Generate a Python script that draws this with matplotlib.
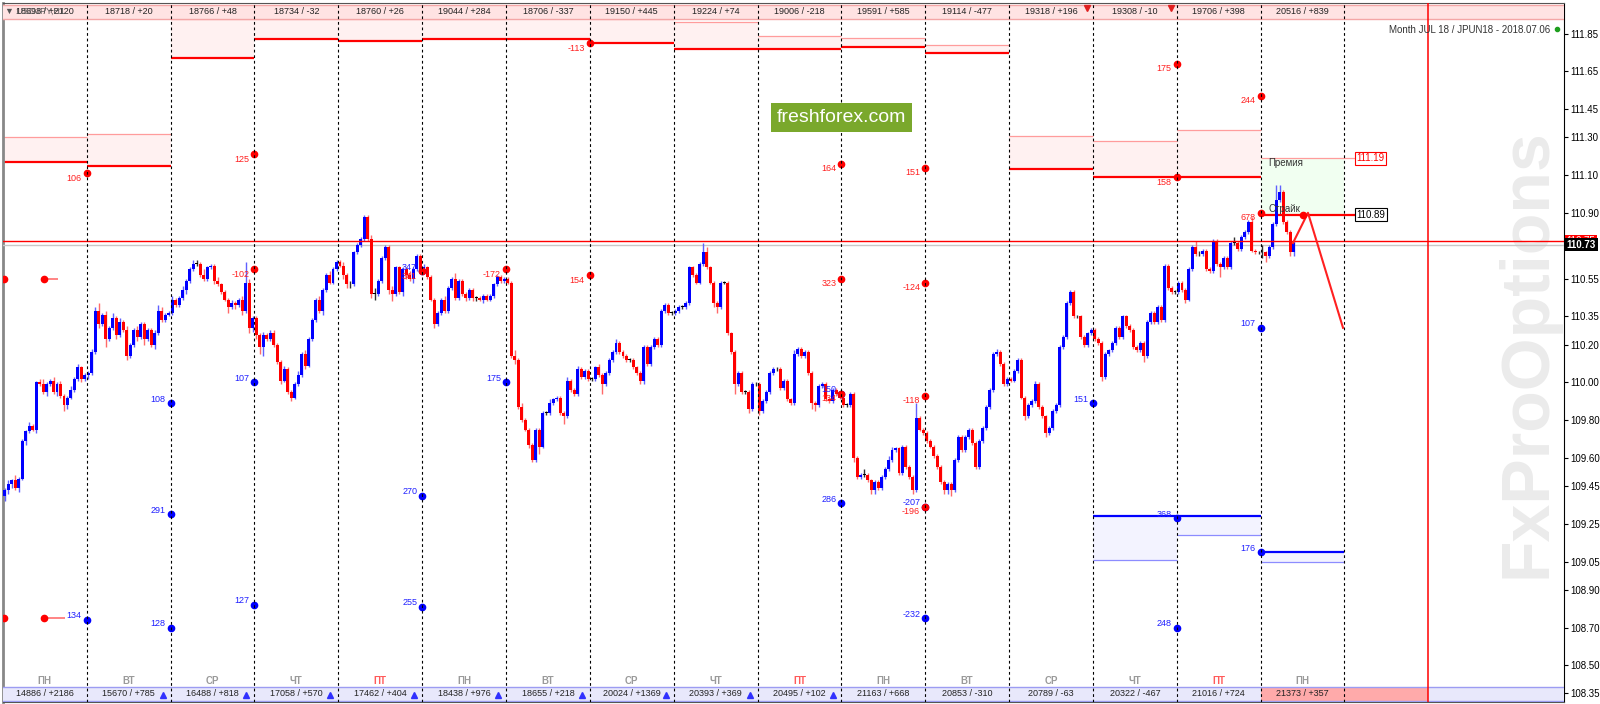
import matplotlib
matplotlib.use("Agg")
import matplotlib.pyplot as plt
from matplotlib.patches import Rectangle
from matplotlib.transforms import blended_transform_factory

plt.rcParams['font.family'] = ['Liberation Sans', 'DejaVu Sans']

# ---------------- data ----------------
day_names = ["ПН", "ВТ", "СР", "ЧТ", "ПТ", "ПН", "ВТ", "СР", "ЧТ", "ПТ",
             "ПН", "ВТ", "СР", "ЧТ", "ПТ", "ПН"]
top_labels = ["18698 / +2120", "18718 / +20", "18766 / +48", "18734 / -32",
              "18760 / +26", "19044 / +284", "18706 / -337", "19150 / +445",
              "19224 / +74", "19006 / -218", "19591 / +585", "19114 / -477",
              "19318 / +196", "19308 / -10", "19706 / +398", "20516 / +839"]
bottom_labels = ["14886 / +2186", "15670 / +785", "16488 / +818", "17058 / +570",
                 "17462 / +404", "18438 / +976", "18655 / +218", "20024 / +1369",
                 "20393 / +369", "20495 / +102", "21163 / +668", "20853 / -310",
                 "20789 / -63", "20322 / -467", "21016 / +724", "21373 / +357"]

first_open = 109.40
closes_by_day = [
    [109.43, 109.46, 109.48, 109.44, 109.49, 109.69, 109.74, 109.77, 109.75, 110.00, 109.99, 109.95,
     109.99, 110.01, 109.95, 109.99, 109.93, 109.88, 109.92, 109.96, 110.02, 110.08, 110.02, 110.04],
    [110.05, 110.16, 110.38, 110.31, 110.36, 110.23, 110.29, 110.34, 110.25, 110.32, 110.28, 110.14,
     110.20, 110.28, 110.24, 110.31, 110.23, 110.28, 110.20, 110.26, 110.38, 110.33, 110.36, 110.37],
    [110.44, 110.41, 110.45, 110.49, 110.54, 110.60, 110.63, 110.63, 110.57, 110.55, 110.61, 110.62,
     110.54, 110.52, 110.48, 110.44, 110.40, 110.42, 110.41, 110.44, 110.38, 110.53, 110.29, 110.34],
    [110.25, 110.19, 110.25, 110.23, 110.26, 110.20, 110.11, 110.01, 110.07, 109.95, 109.92, 109.99,
     110.04, 110.15, 110.09, 110.23, 110.33, 110.44, 110.38, 110.49, 110.57, 110.53, 110.60, 110.64],
    [110.62, 110.57, 110.52, 110.52, 110.69, 110.73, 110.76, 110.88, 110.76, 110.47, 110.47, 110.54,
     110.66, 110.72, 110.49, 110.47, 110.61, 110.48, 110.60, 110.57, 110.55, 110.60, 110.67, 110.59],
    [110.61, 110.56, 110.44, 110.31, 110.37, 110.44, 110.38, 110.50, 110.55, 110.45, 110.54, 110.47,
     110.45, 110.49, 110.45, 110.45, 110.44, 110.46, 110.44, 110.46, 110.52, 110.56, 110.54, 110.55],
    [110.53, 110.14, 110.12, 109.87, 109.80, 109.75, 109.67, 109.59, 109.75, 109.66, 109.84, 109.84,
     109.89, 109.91, 109.92, 109.84, 109.82, 110.01, 109.96, 109.94, 110.07, 110.03, 110.06, 110.02],
    [110.02, 110.08, 110.04, 109.99, 110.05, 110.12, 110.16, 110.21, 110.16, 110.14, 110.12, 110.12,
     110.08, 110.05, 110.01, 110.19, 110.10, 110.19, 110.23, 110.20, 110.38, 110.41, 110.37, 110.37],
    [110.38, 110.40, 110.40, 110.42, 110.61, 110.57, 110.53, 110.63, 110.69, 110.61, 110.53, 110.42,
     110.40, 110.53, 110.53, 110.26, 110.16, 109.99, 110.05, 109.95, 109.95, 109.86, 109.99, 109.99],
    [109.85, 109.90, 109.95, 110.05, 110.07, 110.07, 109.97, 110.01, 109.91, 109.89, 110.15, 110.18,
     110.14, 110.16, 110.05, 109.89, 109.88, 109.98, 109.99, 109.91, 109.90, 109.96, 109.94, 109.92],
    [109.88, 109.88, 109.94, 109.60, 109.50, 109.51, 109.51, 109.48, 109.43, 109.47, 109.44, 109.50,
     109.54, 109.59, 109.64, 109.65, 109.52, 109.66, 109.55, 109.50, 109.43, 109.81, 109.75, 109.73],
    [109.69, 109.66, 109.61, 109.55, 109.47, 109.43, 109.46, 109.43, 109.59, 109.71, 109.64, 109.71,
     109.75, 109.68, 109.55, 109.69, 109.76, 109.87, 109.96, 110.15, 110.16, 110.10, 109.99, 110.02],
    [110.01, 110.06, 110.12, 109.92, 109.82, 109.88, 109.90, 109.99, 109.87, 109.82, 109.73, 109.76,
     109.85, 109.88, 110.19, 110.24, 110.42, 110.48, 110.35, 110.35, 110.24, 110.20, 110.26, 110.28],
    [110.23, 110.21, 110.03, 110.15, 110.17, 110.21, 110.29, 110.24, 110.35, 110.30, 110.28, 110.19,
     110.17, 110.21, 110.14, 110.32, 110.37, 110.32, 110.40, 110.33, 110.62, 110.50, 110.48, 110.48],
    [110.53, 110.49, 110.44, 110.60, 110.72, 110.68, 110.68, 110.70, 110.60, 110.59, 110.75, 110.63,
     110.61, 110.66, 110.61, 110.74, 110.74, 110.71, 110.77, 110.80, 110.85, 110.70, 110.69, 110.69],
    [110.69, 110.67, 110.72, 110.84, 110.97, 111.01, 110.85, 110.80, 110.69, 110.74],
]
# wick extensions beyond the body, in 0.01 (pips)
wick_up_by_day = [
    [1, 2, 1, 3, 1, 1, 1, 2, 1, 1, 2, 3, 1, 1, 2, 1, 2, 1, 1, 2, 1, 2, 1, 1],
    [1, 2, 2, 4, 1, 2, 1, 3, 1, 2, 1, 2, 1, 1, 2, 1, 1, 1, 1, 2, 3, 2, 1, 1],
    [2, 1, 1, 2, 1, 1, 2, 2, 1, 3, 1, 1, 1, 2, 1, 1, 1, 2, 1, 1, 2, 11, 2, 1],
    [1, 1, 2, 1, 2, 2, 1, 1, 2, 1, 1, 1, 2, 1, 2, 1, 1, 1, 2, 1, 1, 2, 1, 1],
    [1, 2, 1, 2, 1, 1, 1, 1, 1, 2, 3, 1, 1, 1, 1, 2, 1, 1, 1, 1, 2, 1, 1, 1],
    [2, 1, 1, 1, 1, 1, 2, 1, 1, 3, 1, 1, 1, 1, 1, 1, 1, 1, 1, 1, 1, 1, 1, 1],
    [1, 1, 3, 1, 2, 1, 1, 1, 1, 1, 1, 1, 2, 1, 1, 1, 1, 2, 1, 1, 2, 1, 1, 1],
    [1, 1, 2, 1, 1, 1, 1, 2, 1, 1, 1, 1, 1, 1, 1, 1, 1, 1, 1, 1, 1, 1, 1, 1],
    [1, 1, 1, 1, 1, 1, 1, 1, 5, 3, 1, 1, 1, 1, 1, 1, 1, 1, 1, 1, 1, 1, 1, 1],
    [1, 1, 1, 1, 1, 1, 1, 1, 1, 1, 2, 1, 1, 1, 1, 1, 1, 1, 1, 1, 1, 1, 1, 1],
    [1, 1, 1, 1, 1, 1, 3, 1, 1, 1, 1, 1, 1, 2, 2, 1, 1, 1, 1, 1, 1, 8, 1, 1],
    [1, 1, 1, 1, 1, 1, 1, 1, 1, 1, 1, 1, 1, 1, 1, 1, 1, 1, 1, 1, 2, 1, 1, 1],
    [1, 1, 1, 1, 1, 1, 1, 2, 1, 1, 1, 1, 1, 1, 1, 1, 1, 1, 1, 1, 1, 1, 1, 1],
    [1, 1, 1, 1, 1, 1, 1, 1, 1, 1, 1, 1, 1, 1, 1, 1, 1, 1, 1, 1, 1, 1, 1, 1],
    [1, 1, 1, 1, 1, 3, 2, 1, 1, 1, 1, 1, 1, 1, 1, 1, 3, 1, 1, 1, 1, 3, 1, 1],
    [4, 1, 1, 1, 8, 4, 1, 1, 1, 1],
]
wick_dn_by_day = [
    [3, 2, 2, 1, 2, 1, 2, 1, 1, 2, 1, 1, 2, 1, 1, 2, 1, 3, 2, 1, 1, 1, 2, 1],
    [2, 1, 1, 2, 1, 4, 1, 1, 2, 1, 1, 2, 1, 1, 2, 1, 3, 1, 1, 2, 1, 1, 1, 1],
    [1, 1, 1, 1, 2, 1, 1, 1, 1, 1, 1, 1, 2, 1, 1, 1, 3, 1, 2, 1, 2, 1, 3, 2],
    [2, 4, 5, 1, 1, 1, 1, 2, 1, 1, 2, 1, 1, 1, 2, 1, 1, 1, 1, 2, 1, 1, 1, 1],
    [1, 2, 2, 2, 1, 1, 1, 1, 1, 2, 3, 1, 1, 1, 2, 4, 1, 1, 2, 2, 1, 2, 1, 1],
    [1, 1, 1, 2, 1, 1, 1, 1, 1, 1, 1, 1, 2, 1, 2, 2, 1, 2, 1, 1, 1, 1, 1, 1],
    [1, 1, 2, 1, 1, 1, 2, 1, 1, 4, 1, 1, 1, 1, 1, 1, 4, 1, 1, 1, 1, 1, 1, 1],
    [1, 1, 1, 5, 1, 1, 1, 1, 1, 1, 1, 1, 1, 1, 2, 2, 1, 1, 1, 1, 1, 1, 1, 1],
    [1, 1, 1, 1, 1, 1, 1, 1, 1, 1, 1, 2, 3, 1, 1, 1, 1, 5, 1, 1, 1, 2, 1, 1],
    [2, 1, 1, 1, 1, 1, 1, 1, 1, 1, 1, 1, 1, 1, 1, 3, 3, 1, 1, 1, 1, 1, 1, 1],
    [1, 1, 1, 2, 1, 1, 1, 1, 2, 2, 1, 1, 1, 1, 1, 1, 1, 1, 1, 1, 2, 1, 1, 1],
    [1, 1, 1, 1, 1, 2, 2, 3, 1, 1, 1, 1, 1, 1, 1, 1, 1, 1, 1, 1, 1, 1, 1, 1],
    [1, 1, 1, 1, 2, 1, 1, 1, 1, 1, 2, 1, 1, 1, 1, 1, 1, 1, 1, 1, 1, 1, 1, 1],
    [1, 1, 2, 1, 1, 1, 1, 1, 1, 1, 1, 1, 1, 1, 3, 1, 1, 1, 1, 1, 1, 1, 1, 1],
    [1, 1, 2, 1, 1, 1, 1, 1, 1, 1, 1, 1, 5, 1, 1, 1, 1, 1, 1, 1, 1, 1, 1, 1],
    [3, 3, 1, 1, 1, 1, 1, 1, 2, 2],
]

# daily option levels (upper = calls, red; lower = puts, blue)
up_thick = [111.17, 111.15, 111.72, 111.82, 111.81, 111.82, 111.82, 111.80,
            111.77, 111.77, 111.78, 111.75, 111.13, 111.09, 111.09]
up_thin = [111.30, 111.32, 111.93, 111.93, 111.93, 111.93, 111.99, 111.93,
           111.91, 111.84, 111.83, 111.79, 111.31, 111.28, 111.34]
blue_days = [13, 14, 15]
blue_thick = [109.29, 109.29, 109.10]
blue_thin = [109.06, 109.19, 109.05]
premium_price = 111.19
strike_price = 110.89
bid_price = 110.73
ask_price = 110.75

red_dots = [(1.0, 111.11, "106"), (3.0, 111.21, "125"), (3.0, 110.60, "-102"),
            (5.0, 110.59, "341"), (6.0, 110.60, "-172"), (7.0, 110.57, "154"),
            (7.0, 111.80, "-113"), (10.0, 111.16, "164"), (10.0, 110.55, "323"),
            (10.0, 109.94, "134"), (11.0, 111.14, "151"), (11.0, 110.53, "-124"),
            (11.0, 109.93, "-118"), (11.0, 109.34, "-196"), (14.0, 111.09, "158"),
            (14.0, 111.69, "175"), (15.0, 111.52, "244"), (15.0, 110.90, "678"),
            (15.5, 110.89, "")]
blue_dots = [(1.0, 108.74, "134"), (2.0, 109.89, "108"), (2.0, 109.30, "291"),
             (2.0, 108.70, "128"), (3.0, 110.00, "107"), (3.0, 108.82, "127"),
             (5.0, 110.59, "347"), (5.0, 109.40, "270"), (5.0, 108.81, "255"),
             (6.0, 110.00, "175"), (10.0, 109.94, "150"), (10.0, 109.36, "286"),
             (11.0, 109.34, "-207"), (11.0, 108.75, "-232"), (13.0, 109.89, "151"),
             (14.0, 109.28, "368"), (14.0, 108.70, "248"), (15.0, 110.29, "107"),
             (15.0, 109.10, "176")]
stub_price = [110.55, 108.75]
stub_start = [0.49, 0.49]
stub_end = [0.66, 0.74]
fc_t = [15.386, 15.565, 15.983]
fc_p = [110.74, 110.90, 110.29]

y_ticks = [111.85, 111.65, 111.45, 111.30, 111.10, 110.90, 110.55, 110.35, 110.20,
           110.00, 109.80, 109.60, 109.45, 109.25, 109.05, 108.90, 108.70, 108.50, 108.35]

# ---------------- layout ----------------
W, H = 1600, 704
fig = plt.figure(figsize=(W / 100, H / 100), dpi=100)
X0, DAYPX = 2.85, 83.85
L, R, T, B = X0, 1563.8, 3.0, 702.0
PX_PER = 188.5
P_AT0 = 112.029
ax = fig.add_axes([L / W, 1 - B / H, (R - L) / W, (B - T) / H])
ax.set_xlim(0, (R - X0) / DAYPX)
ax.set_ylim(P_AT0 - B / PX_PER, P_AT0 - T / PX_PER)


def fy(ypx):
    return (B - ypx) / (B - T)


def fx(xpx):
    return (xpx - L) / (R - L)


tr = blended_transform_factory(ax.transData, ax.transAxes)
tr_r = blended_transform_factory(ax.transAxes, ax.transData)

# watermark
ax.text(fx(1527), fy(353), "FxProOptions", transform=ax.transAxes, rotation=90,
        ha='center', va='center', fontsize=49, fontweight='bold',
        color='#EBEBEB', family='Liberation Sans', zorder=0)

# ---------------- levels ----------------
for d in range(len(up_thick)):
    ax.fill_between([d, d + 1], up_thick[d], up_thin[d], color='#FFF1F1', lw=0, zorder=1)
    ax.hlines(up_thin[d], d, d + 1, color='#FF9C9C', lw=0.9, zorder=2)
    ax.hlines(up_thick[d], d, d + 1, color='#FF0000', lw=1.6, zorder=2)
box_day = (1355 - X0) / DAYPX
ax.fill_between([15, 16], strike_price, premium_price, color='#F1FFF1', lw=0, zorder=1)
ax.hlines(premium_price, 15, box_day, color='#FF9C9C', lw=0.9, zorder=2)
ax.hlines(strike_price, 15, box_day, color='#FF0000', lw=1.6, zorder=2)
for i, d in enumerate(blue_days):
    ax.fill_between([d, d + 1], blue_thick[i], blue_thin[i], color='#F3F3FF', lw=0, zorder=1)
    ax.hlines(blue_thin[i], d, d + 1, color='#8C8CFF', lw=0.9, zorder=2)
    ax.hlines(blue_thick[i], d, d + 1, color='#0000FF', lw=1.6, zorder=2)

ax.text(15.09, 111.165, "Премия", fontsize=7, color='#333333', va='center', ha='left', zorder=6)
ax.text(15.09, 110.92, "Страйк", fontsize=7, color='#333333', va='center', ha='left', zorder=6)
ax.text(box_day + 0.02, premium_price, "111.19", fontsize=7, color='red', va='center', ha='left',
        bbox=dict(boxstyle='square,pad=0.15', fc='white', ec='red', lw=0.8), zorder=8)
ax.text(box_day + 0.02, strike_price, "110.89", fontsize=7, color='black', va='center', ha='left',
        bbox=dict(boxstyle='square,pad=0.15', fc='white', ec='black', lw=0.8), zorder=8)

# bid / ask
ax.axhline(bid_price, color='#C8C8C8', lw=1, zorder=3)
ax.axhline(ask_price, color='#FF0000', lw=1, zorder=3.5)

# ---------------- candles ----------------
t_list, o_list, c_list, h_list, l_list = [], [], [], [], []
prev = first_open
for d, closes in enumerate(closes_by_day):
    for k, c in enumerate(closes):
        o = prev
        t_list.append(d + (k + 0.5) / 24)
        o_list.append(o)
        c_list.append(c)
        h_list.append(max(o, c) + wick_up_by_day[d][k] / 100)
        l_list.append(min(o, c) - wick_dn_by_day[d][k] / 100)
        prev = c

body_col, wick_col, bottoms, heights = [], [], [], []
for o, c in zip(o_list, c_list):
    if c > o + 1e-9:
        body_col.append('#0000FF'); wick_col.append('#6060FF')
    elif c < o - 1e-9:
        body_col.append('#FF0000'); wick_col.append('#FF6A6A')
    else:
        body_col.append('#000000'); wick_col.append('#303030')
    bottoms.append(min(o, c))
    heights.append(max(abs(c - o), 0.004))
ax.vlines(t_list, l_list, h_list, colors=wick_col, lw=1.0, zorder=3)
ax.bar(t_list, heights, bottom=bottoms, width=0.85 / 24, color=body_col, lw=0, zorder=3.2)

# forecast zigzag
ax.plot(fc_t, fc_p, color='#FF2020', lw=1.5, zorder=4)

# ---------------- dots & labels ----------------
for t, p, s in blue_dots:
    ax.plot(t, p, 'o', color='#0000FF', ms=4.5, zorder=6)
    ax.annotate(s, (t, p), xytext=(-5, 4), textcoords='offset pixels', ha='right',
                va='center', fontsize=6.5, color='#2020FF', zorder=6)
for t, p, s in red_dots:
    ax.plot(t, p, 'o', color='#FF0000', ms=4.5, zorder=6.5)
    if s:
        ax.annotate(s, (t, p), xytext=(-5, -5), textcoords='offset pixels', ha='right',
                    va='center', fontsize=6.5, color='#FF2020', zorder=6.5)
for p, a, b in zip(stub_price, stub_start, stub_end):
    ax.hlines(p, a, b, color='#FF7070', lw=1.2, zorder=5)
    ax.plot([0.014, a], [p, p], 'o', color='#FF0000', ms=4.5, zorder=6)

# ---------------- bands ----------------
ax.add_patch(Rectangle((0, fy(19)), 1, fy(5) - fy(19), transform=ax.transAxes,
                       fc='#FFE3E3', ec='none', zorder=5))
for yy in (5, 19):
    ax.plot([0, 1], [fy(yy)] * 2, transform=ax.transAxes, color='#F4A6A6', lw=1, zorder=5.1)
ax.add_patch(Rectangle((0, fy(701)), 1, fy(687) - fy(701), transform=ax.transAxes,
                       fc='#E8E8FB', ec='none', zorder=5))
ax.add_patch(Rectangle((15, fy(701)), 2, fy(687) - fy(701), transform=tr,
                       fc='#FFAAAA', ec='none', zorder=5.05))
for yy in (687, 701):
    ax.plot([0, 1], [fy(yy)] * 2, transform=ax.transAxes, color='#9C9CF2', lw=1, zorder=5.1)

for d in range(16):
    ax.text(d + 0.5, fy(12), top_labels[d], transform=tr, ha='center', va='center',
            fontsize=6.5, color='#222222', zorder=6)
    ax.text(d + 0.5, fy(694), bottom_labels[d], transform=tr, ha='center', va='center',
            fontsize=6.5, color='#222222', zorder=6)
    ax.text(d + 0.5, fy(681), day_names[d], transform=tr, ha='center', va='center',
            fontsize=7, fontweight='bold',
            color='#FF5A5A' if day_names[d] == "ПТ" else '#9A9A9A', zorder=6)
for d in range(1, 10):
    ax.plot(d + 1 - 8 / DAYPX, fy(695), '^', transform=tr, color='#3030FF', ms=4, zorder=6)
for d in (12, 13):
    ax.plot(d + 1 - 6 / DAYPX, fy(8), 'v', transform=tr, color='#E02020', ms=4, zorder=6)
ax.text(fx(5), fy(11), "▼ USDJPY,H1", transform=ax.transAxes, ha='left', va='center',
        fontsize=6.5, color='#555555', zorder=6.2)

# separators
for d in range(1, 17):
    ax.axvline(d, color='black', lw=0.8, ls=(0, (2.5, 2.5)), zorder=7)
ax.axvline(17, color='#FF0000', lw=1.1, zorder=7)

# header text and brand box
ax.text(fx(1550), fy(30), "Month JUL 18 / JPUN18 - 2018.07.06", transform=ax.transAxes,
        ha='right', va='center', fontsize=7, color='#333333', zorder=8)
ax.plot(fx(1557), fy(29), 'o', transform=ax.transAxes, color='#1E9E1E', ms=3, zorder=8)
ax.text(fx(841.5), fy(117.5), "freshforex.com", transform=ax.transAxes, ha='center',
        va='center', fontsize=14, color='white', zorder=8,
        bbox=dict(boxstyle='square,pad=0.3', fc='#7AA82C', ec='none'))

# ---------------- axes ----------------
ax.set_xticks([])
ax.yaxis.tick_right()
ax.set_yticks(y_ticks)
ax.set_yticklabels([f"{v:.2f}" for v in y_ticks])
ax.tick_params(axis='y', labelsize=7, length=3, width=0.8, pad=2, colors='black')
for s in ('top', 'bottom'):
    ax.spines[s].set_color('#555555')
ax.spines['left'].set_color('#888888')
ax.spines['left'].set_linewidth(2)
ax.spines['right'].set_color('black')
ax.annotate("110.75", (1, ask_price), xycoords=tr_r, xytext=(3, 0), textcoords='offset pixels',
            ha='left', va='center', fontsize=7, color='white', zorder=9,
            bbox=dict(boxstyle='square,pad=0.15', fc='#FF0000', ec='none'), annotation_clip=False)
ax.annotate("110.73", (1, bid_price), xycoords=tr_r, xytext=(3, 0), textcoords='offset pixels',
            ha='left', va='center', fontsize=7, color='white', fontweight='bold', zorder=10,
            bbox=dict(boxstyle='square,pad=0.15', fc='black', ec='none'), annotation_clip=False)

fig.savefig("out.png", dpi=100, facecolor='white')
